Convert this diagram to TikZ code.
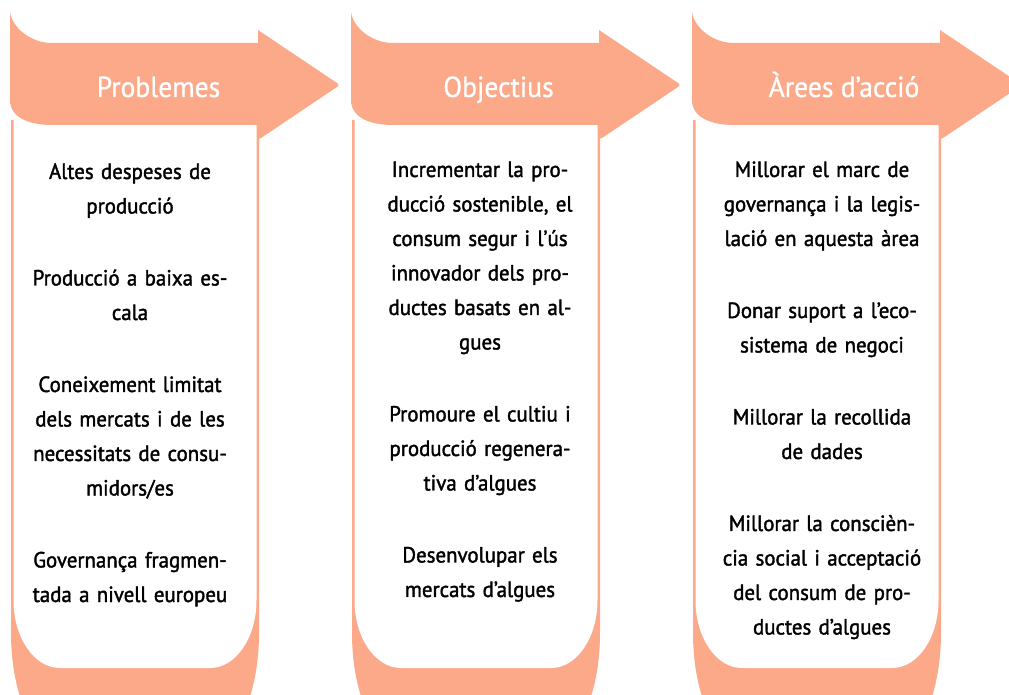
\documentclass[tikz,border=0pt]{standalone}
\usepackage{fontspec}
\setmainfont{PT Sans}
\newfontfamily\bodyfont[FakeBold=1.6,FakeStretch=0.95]{PT Sans}
\newfontfamily\headfont[FakeBold=0.8,FakeStretch=0.95]{PT Sans}
\definecolor{salmon}{HTML}{FCA98A}
\tikzset{
  headtext/.style={text=white, font=\headfont\fontsize{29}{30}\selectfont, inner sep=0pt, anchor=base},
  bodytext/.style={text=black, font=\bodyfont\fontsize{22}{34.5}\selectfont, inner sep=0pt, anchor=base, text width=240pt, align=center},
}
\newcommand{\pgap}{\\[37.5pt]}
\begin{document}
\begin{tikzpicture}[x=1pt,y=-1pt]
\useasboundingbox (0,0) rectangle (1009,695);
\foreach \L in {10,351,692}{
  % card
  \fill[salmon] (\L+1,120) -- (\L+1,633) .. controls (\L+1,694) and (\L+23,743) .. (\L+51,743)
     -- (\L+199,743) .. controls (\L+227,743) and (\L+249,694) .. (\L+249,633) -- (\L+249,120) -- cycle;
  \fill[white] (\L+3.5,120) -- (\L+3.5,600) .. controls (\L+3.5,637.5) and (\L+24,668) .. (\L+50,668)
     -- (\L+200,668) .. controls (\L+226,668) and (\L+246.5,637.5) .. (\L+246.5,600) -- (\L+246.5,120) -- cycle;
  % arrow
  \fill[salmon] (\L,12) .. controls (\L+2,27) and (\L+20,43) .. (\L+42,43) -- (\L+248,43)
     -- (\L+248,30) [rounded corners=3] -- (\L+330,85) -- (\L+248,140) [sharp corners] -- (\L+248,125)
     -- (\L+42,125) .. controls (\L+18,125) and (\L,117) .. (\L,100) -- cycle;
}
\node[headtext] (h1) at (158.5,97) {Problemes};
\node[headtext] (h2) at (498.5,97) {Objectius};
\node[headtext] (h3) at (844,97) {Àrees d’acció};

\node[bodytext] (b1) at (130,179) {Altes despeses de\\producció\pgap
Producció a baixa es-\\cala\pgap
Coneixement limitat\\dels mercats i de les\\necessitats de consu-\\midors/es\pgap
Governança fragmen-\\tada a nivell europeu};
\node[bodytext] (b2) at (480,177) {Incrementar la pro-\\ducció sostenible, el\\consum segur i l’ús\\innovador dels pro-\\ductes basats en al-\\gues\pgap
Promoure el cultiu i\\producció regenera-\\tiva d’algues\pgap
Desenvolupar els\\mercats d’algues};
\node[bodytext] (b3) at (822,177) {Millorar el marc de\\governança i la legis-\\lació en aquesta àrea\pgap
Donar suport a l’eco-\\sistema de negoci\pgap
Millorar la recollida\\de dades\pgap
Millorar la conscièn-\\cia social i acceptació\\del consum de pro-\\ductes d’algues};
\end{tikzpicture}
\end{document}
